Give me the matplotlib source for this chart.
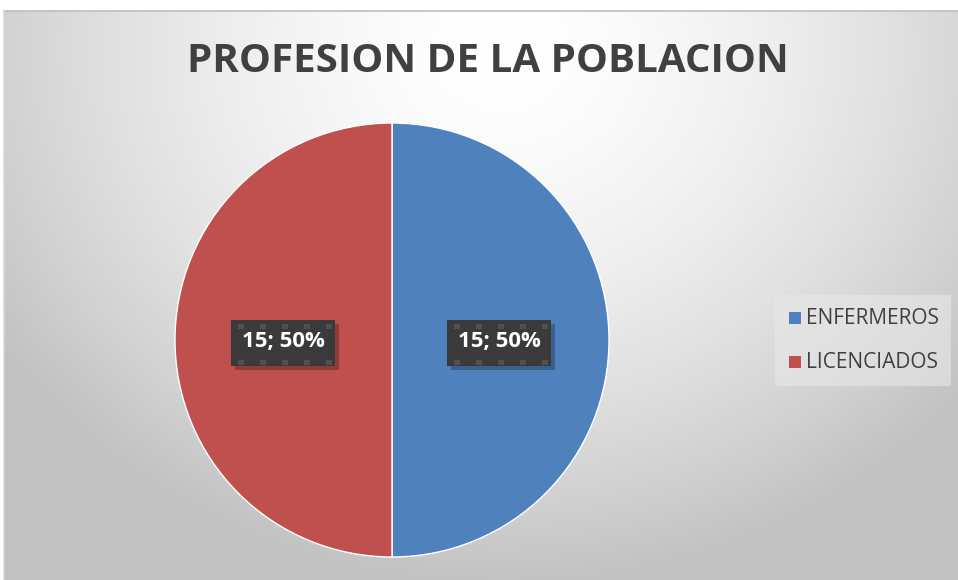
import numpy as np
import matplotlib.pyplot as plt
from matplotlib.patches import Rectangle

# data
labels = ["ENFERMEROS", "LICENCIADOS"]
values = [15, 15]
colors = ["#4F81BD", "#C0504D"]

W, H = 958, 580
fig = plt.figure(figsize=(W / 100, H / 100), dpi=100)

# background with radial gradient (chart area)
bg = fig.add_axes([0, 0, 1, 1])
bg.set_xlim(0, W)
bg.set_ylim(H, 0)
bg.axis("off")
yy, xx = np.mgrid[0:H, 0:W]
d = np.sqrt(((xx - 500) / 620.0) ** 2 + ((yy - 40) / 560.0) ** 2)
shade = np.clip(1.0 - 0.25 * d ** 1.6, 0.76, 1.0)
img = np.dstack([shade, shade, shade])
bg.imshow(img, extent=(4, W, H, 11), aspect="auto", zorder=0)
bg.plot([4, W], [11, 11], color="#bdbdbd", lw=1.2, zorder=1)
bg.plot([4, 4], [11, H], color="#d9d9d9", lw=1.2, zorder=1)

# legend panel
bg.add_patch(Rectangle((775, 295), 176, 91, facecolor="#e8e8e8", edgecolor="none", alpha=0.6, zorder=1))

# title
bg.text(488, 62, "PROFESION DE LA POBLACION", ha="center", va="center",
        fontsize=29, fontweight="bold", color="#404040", family="Open Sans")

# pie
cx, cy, r = 392, 340, 217
ax = fig.add_axes([(cx - r) / W, 1 - (cy + r) / H, 2 * r / W, 2 * r / H])
wedges, _ = ax.pie(values, colors=colors, startangle=90, counterclock=False,
                   wedgeprops=dict(edgecolor="white", linewidth=1))
ax.set_xlim(-1, 1)
ax.set_ylim(-1, 1)
ax.set_aspect("auto")
ax.axis("off")

# overlay for labels and legend
top = fig.add_axes([0, 0, 1, 1])
top.set_xlim(0, W)
top.set_ylim(H, 0)
top.axis("off")
top.patch.set_alpha(0)

# data labels
total = sum(values)
for v, lx in zip(values, [499, 283]):
    top.add_patch(Rectangle((lx - 52 + 4, 320 + 4), 104, 46, facecolor="#000000",
                            alpha=0.25, edgecolor="none", zorder=3))
    top.add_patch(Rectangle((lx - 52, 320), 104, 46, facecolor="#3a3a3a",
                            edgecolor="none", zorder=4))
    for gx in np.arange(lx - 45, lx + 52, 22):
        for gy in [324, 360]:
            top.add_patch(Rectangle((gx, gy), 6, 5, facecolor="#505050",
                                    edgecolor="none", zorder=4))
    top.text(lx, 342, f"{v}; {v / total:.0%}", ha="center", va="center",
             fontsize=16, fontweight="bold", color="white", family="Open Sans",
             zorder=5)

# legend
for lab, col, ly in zip(labels, colors, [318, 362]):
    top.add_patch(Rectangle((789, ly - 6), 12, 12, facecolor=col, edgecolor="none", zorder=5))
    top.text(806, ly, lab, ha="left", va="center", fontsize=15, color="#404040",
             family="Open Sans", zorder=5)

fig.savefig("out.png", dpi=100)
